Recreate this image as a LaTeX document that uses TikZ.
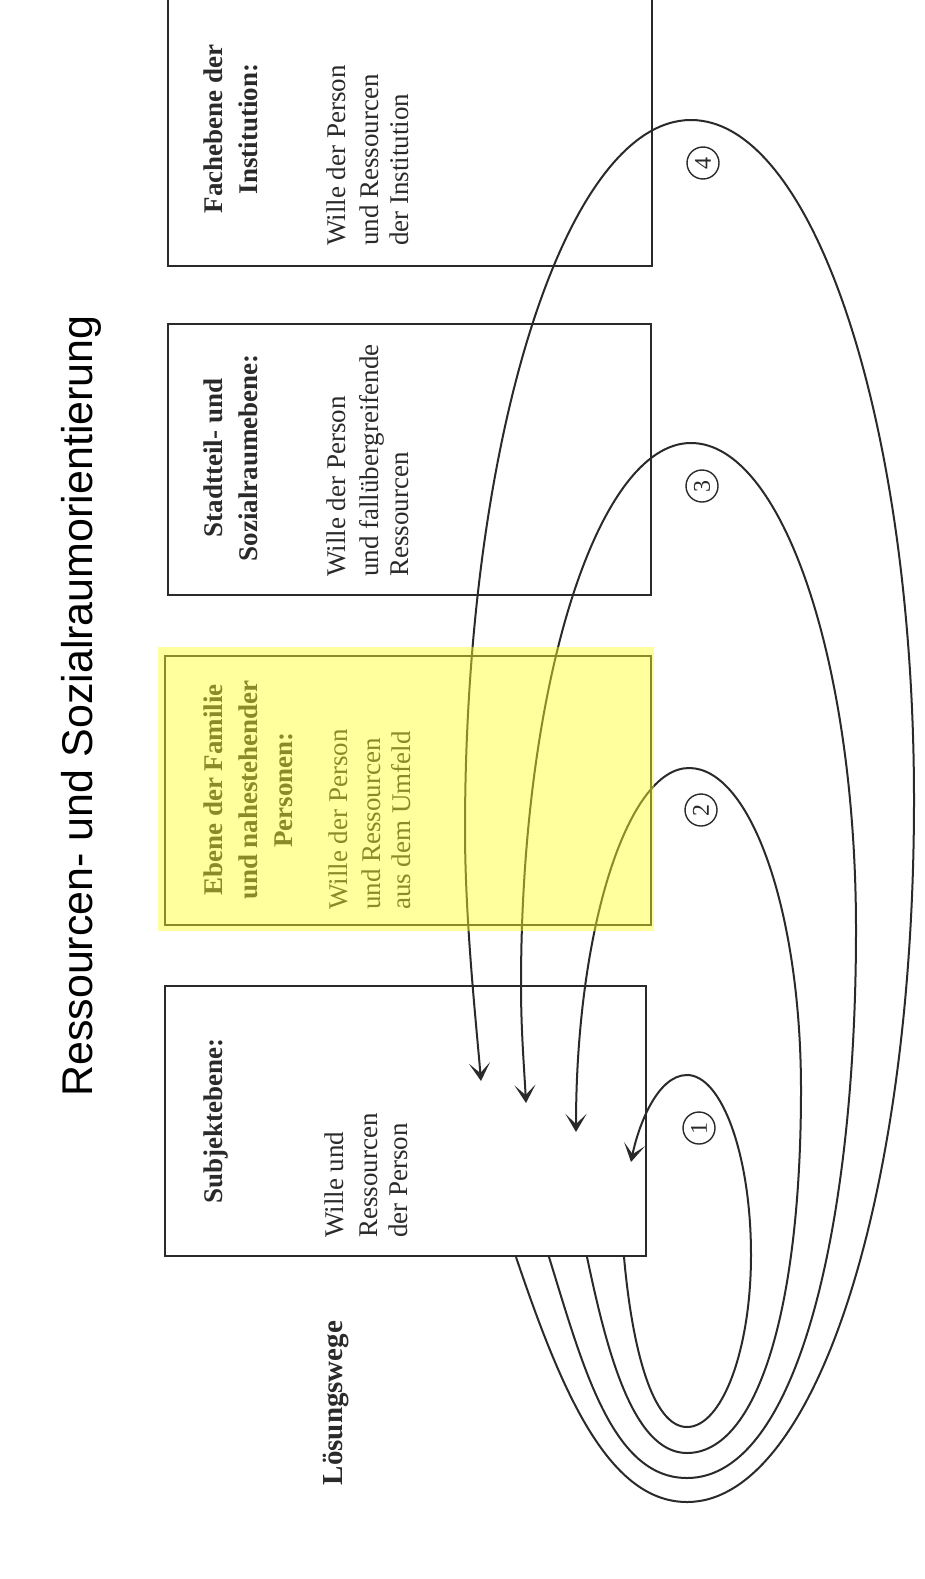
\documentclass[tikz,border=0pt]{standalone}
\usepackage{fontspec}
\setmainfont{Liberation Serif}
\newfontfamily\titlefont{Liberation Sans}
\usetikzlibrary{arrows.meta}
\definecolor{ink}{HTML}{2A2A2A}
\definecolor{hl}{RGB}{255,255,40}
\begin{document}
\begin{tikzpicture}[x=1pt,y=-1pt,
  box/.style={draw=ink, line width=2.6pt, inner sep=0pt, fill=none},
  head/.style={rotate=90, anchor=base, inner sep=0pt, text=ink,
    font=\fontsize{27}{31}\selectfont\bfseries},
  body/.style={rotate=90, anchor=base west, inner sep=0pt, text=ink,
    font=\fontsize{27}{31}\selectfont},
  lp/.style={draw=ink, line width=2pt},
  arr/.style={lp, -{Stealth[length=18pt,width=21pt,inset=10pt]}},
  num/.style={circle, draw=ink, line width=1.4pt, minimum size=32pt, inner sep=0pt,
    rotate=90, text=ink, font=\fontsize{24}{24}\selectfont}
]
\fill[white] (0,0) rectangle (924,1579);
\useasboundingbox (0,0) rectangle (924,1579);

% title
\node[rotate=90, inner sep=0pt, text=black, font=\titlefont\fontsize{43}{43}\selectfont]
  (title) at (81,706) {Ressourcen- und Sozialraumorientierung};
\node[rotate=90, anchor=base, inner sep=0pt, text=ink, font=\fontsize{29}{29}\selectfont\bfseries]
  (lw) at (342,1403) {Lösungswege};

% boxes
\node[box, minimum width=484pt, minimum height=274pt] (fach) at (410,129) {};
\node[box, minimum width=483pt, minimum height=271pt] (stadt) at (409.5,459.5) {};
\node[box, minimum width=486pt, minimum height=269pt] (fam) at (408,790.5) {};
\node[box, minimum width=481pt, minimum height=270pt] (subj) at (405.5,1121) {};

% Fachebene
\node[head] (fh1) at (222,129) {Fachebene der};
\node[head] (fh2) at (257,129) {Institution:};
\node[body] (fb1) at (345,246) {Wille der Person};
\node[body] (fb2) at (378,246) {und Ressourcen};
\node[body] (fb3) at (408,246) {der Institution};

% Stadtteil
\node[head] (sh1) at (222,458) {Stadtteil- und};
\node[head] (sh2) at (257,458) {Sozialraumebene:};
\node[body] (sb1) at (345,577) {Wille der Person};
\node[body] (sb2) at (378,577) {und fallübergreifende};
\node[body] (sb3) at (408,577) {Ressourcen};

% Familie
\node[head] (eh1) at (222,790) {Ebene der Familie};
\node[head] (eh2) at (257,790) {und nahestehender};
\node[head] (eh3) at (292,790) {Personen:};
\node[body] (eb1) at (347,910) {Wille der Person};
\node[body] (eb2) at (380,910) {und Ressourcen};
\node[body] (eb3) at (410,910) {aus dem Umfeld};

% Subjekt
\node[head] (uh1) at (222,1121) {Subjektebene:};
\node[body] (ub1) at (343,1238) {Wille und};
\node[body] (ub2) at (377,1238) {Ressourcen};
\node[body] (ub3) at (407,1238) {der Person};

% numbers
\node[num] (n1) at (699,1128) {1};
\node[num] (n2) at (701,810) {2};
\node[num] (n3) at (702,486) {3};
\node[num] (n4) at (703,163) {4};

% loop key points
\coordinate (s1) at (624,1257);
\coordinate (s2) at (587,1257);
\coordinate (s3) at (549,1257);
\coordinate (s4) at (516,1257);
\coordinate (t1) at (631,1162);
\coordinate (t2) at (576,1132);
\coordinate (t3) at (526,1103);
\coordinate (t4) at (481,1081);

% loop 1
\draw[arr] (s1) .. controls (632,1347) and (652,1427) .. (687,1427)
  .. controls (722,1427) and (751,1350) .. (751,1255)
  .. controls (751,1156) and (722,1075) .. (687,1075)
  .. controls (657,1075) and (638,1127) .. (t1);
% loop 2
\draw[arr] (s2) .. controls (606,1347) and (632,1453) .. (687,1453)
  .. controls (757,1453) and (801,1310) .. (801,1090)
  .. controls (801,912) and (751,768) .. (689,768)
  .. controls (627,768) and (576,931) .. (t2);
% loop 3
\draw[arr] (s3) .. controls (583,1367) and (612,1478) .. (687,1478)
  .. controls (800,1478) and (856,1215) .. (856,930)
  .. controls (856,661) and (782,443) .. (691,443)
  .. controls (597,443) and (521,686) .. (521,985)
  .. controls (521,1030) and (524,1065) .. (t3);
% loop 4
\draw[arr] (s4) .. controls (560,1387) and (607,1502) .. (687,1502)
  .. controls (815,1502) and (914,1195) .. (914,800)
  .. controls (914,425) and (814,120) .. (691,120)
  .. controls (566,120) and (465,438) .. (465,830)
  .. controls (465,920) and (476,1021) .. (t4);

% highlight
\fill[hl, opacity=0.45] (158,647) rectangle (654,931);
\end{tikzpicture}
\end{document}
